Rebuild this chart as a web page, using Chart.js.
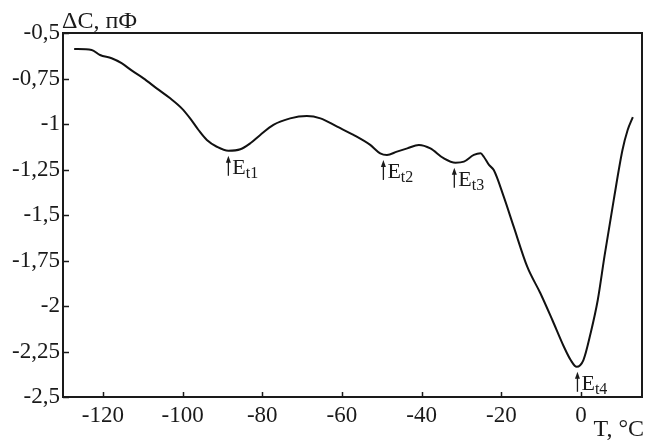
<!DOCTYPE html>
<html>
<head>
<meta charset="utf-8">
<script src="https://cdn.jsdelivr.net/npm/chart.js@4.4.0/dist/chart.umd.min.js"></script>
<style>
    html, body { margin: 0; padding: 0; background: #fff; }
</style>
</head>
<body>
<canvas id="capChart" width="654" height="440"></canvas>
<script>
// Данные кривой ΔC(T)
const temperature = [-127.2, -122.8, -120.7, -117.8, -115.3, -112.7, -109.8, -106.5, -103.1, -100.2,
    -98.1, -96.0, -93.9, -91.4, -88.5, -85.5, -83.0, -80.5, -77.2, -73.0,
    -68.8, -65.4, -61.2, -57.1, -52.9, -50.4, -48.7, -46.2, -43.6, -40.7,
    -37.8, -34.5, -31.5, -29.4, -26.9, -25.2, -24.4, -23.1, -21.9, -19.4,
    -16.9, -13.5, -10.2, -7.2, -4.3, -2.6, -1.1, 0.6, 2.4, 4.2,
    5.9, 8.2, 10.4, 11.7, 13.0];
const capacitance = [-0.588, -0.593, -0.621, -0.639, -0.666, -0.707, -0.749, -0.804, -0.859, -0.914,
    -0.969, -1.033, -1.088, -1.125, -1.147, -1.139, -1.106, -1.060, -1.005, -0.969,
    -0.956, -0.969, -1.015, -1.060, -1.115, -1.161, -1.170, -1.152, -1.134, -1.115,
    -1.134, -1.188, -1.213, -1.207, -1.170, -1.161, -1.180, -1.225, -1.253, -1.399,
    -1.564, -1.784, -1.930, -2.077, -2.224, -2.297, -2.334, -2.297, -2.150, -1.967,
    -1.725, -1.418, -1.143, -1.033, -0.962];

const xTicks = [-120, -100, -80, -60, -40, -20, 0];
const yTicks = [-2.5, -2.25, -2, -1.75, -1.5, -1.25, -1, -0.75, -0.5];

// Отметки уровней E_t
const markerNames = ['t1', 't2', 't3', 't4'];
const markerT = [-88.5, -49.6, -31.8, -0.9];
const markerC = [-1.147, -1.170, -1.213, -2.334];

const serif = "'Liberation Serif', 'Times New Roman', serif";
const ink = '#1a1a1a';

const framePlugin = {
    id: 'frame',
    afterDraw(chart) {
        const ctx = chart.ctx;
        const area = chart.chartArea;
        const xs = chart.scales.x;
        const ys = chart.scales.y;
        ctx.save();

        // рамка
        ctx.strokeStyle = ink;
        ctx.lineWidth = 2;
        ctx.strokeRect(area.left, area.top, area.right - area.left, area.bottom - area.top);

        // штрихи внутрь
        ctx.lineWidth = 1.5;
        xTicks.forEach(v => {
            const px = Math.round(xs.getPixelForValue(v)) + 0.5;
            ctx.beginPath();
            ctx.moveTo(px, area.bottom);
            ctx.lineTo(px, area.bottom - 5);
            ctx.stroke();
        });
        yTicks.forEach(v => {
            const py = Math.round(ys.getPixelForValue(v)) + 0.5;
            ctx.beginPath();
            ctx.moveTo(area.left, py);
            ctx.lineTo(area.left + 6, py);
            ctx.stroke();
        });

        // подписи осей
        ctx.fillStyle = ink;
        ctx.textBaseline = 'alphabetic';
        ctx.textAlign = 'left';
        ctx.font = '24px ' + serif;
        ctx.fillText('ΔC, пФ', area.left - 1, area.top - 5);
        ctx.textAlign = 'right';
        ctx.fillText('T, °C', area.right + 2, 436);

        // стрелки E_t
        markerNames.forEach((name, i) => {
            const px = xs.getPixelForValue(markerT[i]);
            const py = ys.getPixelForValue(markerC[i]);
            const top = py + 5;
            const len = 20;
            ctx.lineWidth = 1.3;
            ctx.beginPath();
            ctx.moveTo(px, top + 5);
            ctx.lineTo(px, top + len);
            ctx.stroke();
            ctx.beginPath();
            ctx.moveTo(px, top);
            ctx.lineTo(px - 2.5, top + 7);
            ctx.lineTo(px + 2.5, top + 7);
            ctx.closePath();
            ctx.fill();

            ctx.textAlign = 'left';
            ctx.font = '22px ' + serif;
            ctx.fillText('E', px + 4, top + 18);
            const w = ctx.measureText('E').width;
            ctx.font = '16px ' + serif;
            ctx.fillText(name, px + 4 + w, top + 22);
        });
        ctx.restore();
    }
};

const capChart = new Chart(document.getElementById('capChart'), {
    type: 'line',
    data: {
        datasets: [{
            data: temperature.map((t, i) => ({ x: t, y: capacitance[i] })),
            borderColor: '#111',
            borderWidth: 2,
            pointRadius: 0,
            cubicInterpolationMode: 'monotone',
            fill: false
        }]
    },
    options: {
        responsive: false,
        animation: false,
        layout: { padding: { top: 33, right: 12, left: 0, bottom: 0 } },
        plugins: {
            legend: { display: false },
            tooltip: { enabled: false }
        },
        scales: {
            x: {
                type: 'linear',
                min: -130,
                max: 15.3,
                afterBuildTicks: scale => { scale.ticks = xTicks.map(v => ({ value: v })); },
                afterFit: scale => { scale.height = 43; },
                grid: { display: false, drawTicks: false },
                border: { display: false },
                ticks: {
                    padding: 5,
                    color: ink,
                    maxRotation: 0,
                    font: { family: serif, size: 23 },
                    callback: v => String(v)
                }
            },
            y: {
                type: 'linear',
                min: -2.5,
                max: -0.5,
                afterBuildTicks: scale => { scale.ticks = yTicks.map(v => ({ value: v })); },
                afterFit: scale => { scale.width = 63; },
                grid: { display: false, drawTicks: false },
                border: { display: false },
                ticks: {
                    padding: 3,
                    color: ink,
                    font: { family: serif, size: 23 },
                    callback: v => String(v).replace('.', ',')
                }
            }
        }
    },
    plugins: [framePlugin]
});
</script>
</body>
</html>
